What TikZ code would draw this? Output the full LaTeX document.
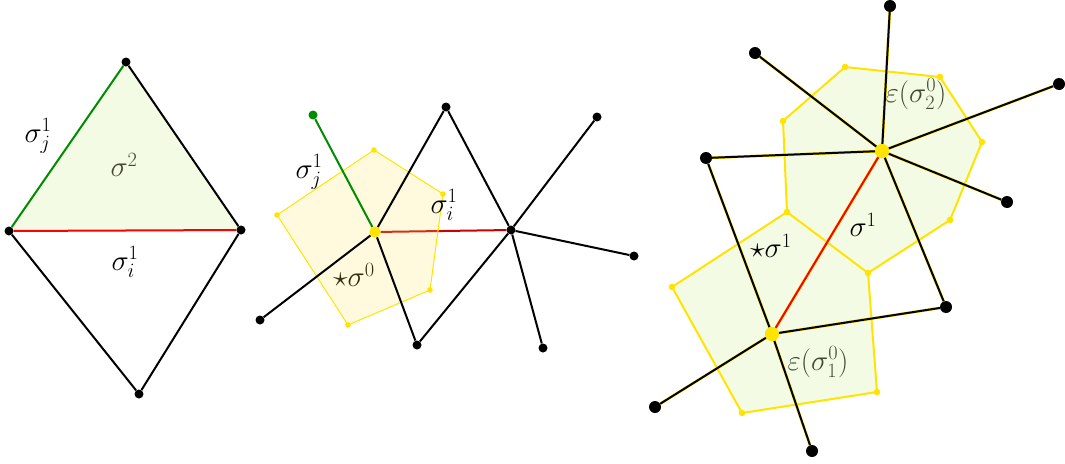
\RequirePackage{fix-cm}
\documentclass[tikz,border=0pt]{standalone}
\usepackage{amsmath}
\usepackage{amssymb}
\usepackage{tikz}
\usetikzlibrary{calc}

\definecolor{cellgreen}{RGB}{215,242,165}
\definecolor{cellyellow}{RGB}{255,232,90}
\definecolor{edgeyellow}{RGB}{255,228,0}
\definecolor{edgegreen}{RGB}{0,140,0}
\definecolor{darkred}{RGB}{205,0,0}

\tikzset{
  dot/.style={circle, fill=black, inner sep=0pt, minimum size=9pt},
  bigdot/.style={dot, minimum size=12pt},
  hubdot/.style={circle, fill=edgeyellow, inner sep=0pt, minimum size=14pt},
  edge/.style={line width=2pt},
  halo/.style={edge, preaction={draw=edgeyellow, line width=2.8pt}},
  cellline/.style={draw=edgeyellow, line width=2pt},
  lbl/.style={font=\fontsize{29}{34}\selectfont}
}

\begin{document}
\begin{tikzpicture}[x=1pt, y=-1pt]
    \useasboundingbox (0,0) rectangle (1065,463);

    % Dreieck links
    \node[lbl] (sig2) at (124,165) {$\sigma^2$};
    \fill[cellgreen, fill opacity=0.3] (126,62) -- (9,231) -- (241,230) -- cycle;
    \node[dot] (a1) at (126,62) {};
    \node[dot] (a2) at (9,231) {};
    \node[dot] (a3) at (241,230) {};
    \node[dot] (a4) at (139,394) {};
    \draw[edge, edgegreen] (a2) -- (a1);
    \draw[edge, red] (a2) -- (a3);
    \draw[edge] (a1) -- (a3) -- (a4) -- (a2);
    \node[lbl] (sigj1) at (38,136) {$\sigma_j^1$};
    \node[lbl] (sigi1) at (125,262) {$\sigma_i^1$};

    % Sterndual in der Mitte
    \node[lbl] (starsig0) at (354,275) {$\star\sigma^0$};
    \node[circle, fill=edgeyellow, inner sep=0pt, minimum size=11pt] (b0) at (375,232) {};
    \node[dot] (b1) at (511,230) {};
    \draw[edge, darkred] (b0) -- (b1);
    \coordinate (q1) at (374,150);
    \coordinate (q2) at (443,194);
    \coordinate (q3) at (430,290);
    \coordinate (q4) at (348,325);
    \coordinate (q5) at (277,215);
    \fill[cellyellow, fill opacity=0.2] (q1) -- (q2) -- (q3) -- (q4) -- (q5) -- cycle;
    \draw[edgeyellow, line width=1pt] (q1) -- (q2) -- (q3) -- (q4) -- (q5) -- cycle;
    \foreach \q in {q1,q2,q3,q4,q5}
      \fill[edgeyellow] (\q) circle (2.8pt);
    \node[circle, fill=edgegreen, inner sep=0pt, minimum size=9pt] (bg) at (313,115) {};
    \node[dot] (b2) at (446,107) {};
    \node[dot] (b3) at (597,117) {};
    \node[dot] (b4) at (634,256) {};
    \node[dot] (b5) at (543,348) {};
    \node[dot] (b6) at (417,345) {};
    \node[dot] (b7) at (260,320) {};
    \draw[edge, edgegreen] (b0) -- (bg);
    \draw[edge] (b7) -- (b0) -- (b2) -- (b1) -- (b6) -- (b0);
    \draw[edge] (b1) -- (b3);
    \draw[edge] (b1) -- (b4);
    \draw[edge] (b1) -- (b5);
    \node[circle, fill=edgeyellow, inner sep=0pt, minimum size=11pt] at (b0) {};
    \node[lbl] (sigj1b) at (309,172) {$\sigma_j^1$};
    \node[lbl] (sigi1b) at (444,205) {$\sigma_i^1$};

    % Zellen rechts
    \node[lbl] (eps2) at (916,94) {$\varepsilon(\sigma_2^0)$};
    \node[lbl] (eps1) at (818,362) {$\varepsilon(\sigma_1^0)$};
    \coordinate (r1) at (845,67);
    \coordinate (r2) at (940,77);
    \coordinate (r3) at (982,142);
    \coordinate (r4) at (950,220);
    \coordinate (r5) at (868,273);
    \coordinate (r6) at (787,212);
    \coordinate (r7) at (783,121);
    \coordinate (s3) at (877,392);
    \coordinate (s4) at (742,413);
    \coordinate (s5) at (672,287);
    \fill[cellgreen, fill opacity=0.3] (r1) -- (r2) -- (r3) -- (r4) -- (r5) -- (r6) -- (r7) -- cycle;
    \fill[cellgreen, fill opacity=0.3] (r6) -- (r5) -- (s3) -- (s4) -- (s5) -- cycle;
    \draw[cellline] (r1) -- (r2) -- (r3) -- (r4) -- (r5) -- (r6) -- (r7) -- cycle;
    \draw[cellline] (r5) -- (s3) -- (s4) -- (s5) -- (r6);
    \node[hubdot] (c2) at (882,151) {};
    \node[hubdot] (c1) at (772,334) {};
    \node[bigdot] (c3) at (890,6) {};
    \node[bigdot] (c4) at (755,53) {};
    \node[bigdot] (c5) at (1059,84) {};
    \node[bigdot] (c6) at (706,158) {};
    \node[bigdot] (c7) at (1007,202) {};
    \node[bigdot] (c8) at (946,307) {};
    \node[bigdot] (c9) at (655,407) {};
    \node[bigdot] (c10) at (812,451) {};
    \foreach \n in {c3,c4,c5,c6,c7,c8}
      \draw[halo] (c2) -- (\n);
    \foreach \n in {c6,c8,c9,c10}
      \draw[halo] (c1) -- (\n);
    \draw[edge, red, preaction={draw=edgeyellow, line width=2.8pt}] (c1) -- (c2);
    \foreach \r in {r1,r2,r3,r4,r5,r6,r7,s3,s4,s5}
      \fill[edgeyellow] (\r) circle (3.3pt);
    \node[hubdot] at (c2) {};
    \node[hubdot] at (c1) {};
    \node[lbl] (sig1) at (863,225) {$\sigma^1$};
    \node[lbl] (starsig1) at (771,246) {$\star\sigma^1$};
\end{tikzpicture}
\end{document}
